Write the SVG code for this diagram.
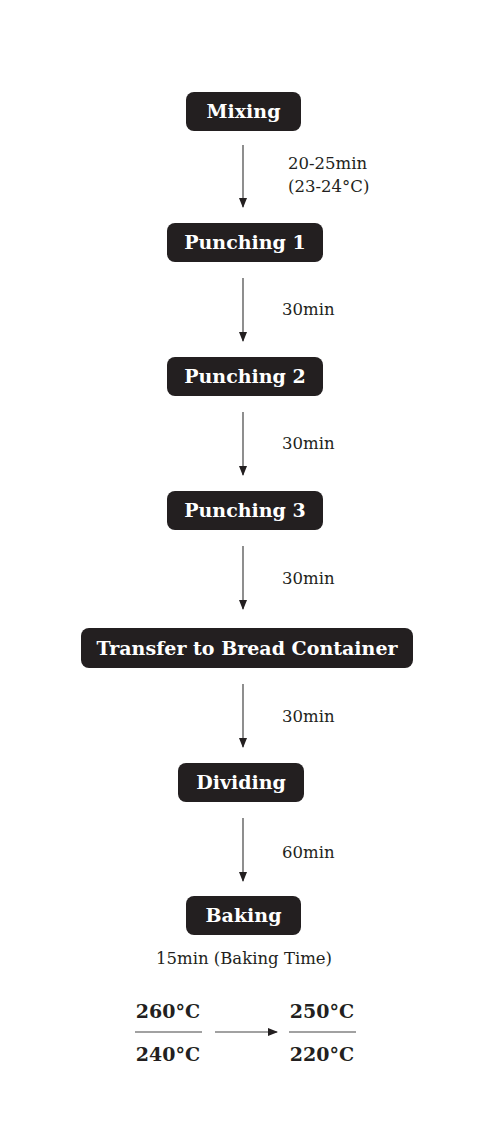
<svg xmlns="http://www.w3.org/2000/svg" width="492" height="1126" viewBox="0 0 492 1126">
<style>
.box{fill:#231f20}
.bt{fill:#fff;font-family:"DejaVu Serif","Liberation Serif",serif;font-weight:bold;font-size:19px;text-anchor:middle}
.lb{fill:#231f20;font-family:"DejaVu Serif","Liberation Serif",serif;font-size:16.5px}
.tp{fill:#231f20;font-family:"DejaVu Serif","Liberation Serif",serif;font-weight:bold;font-size:19px;text-anchor:middle}
.ln{stroke:#444;stroke-width:1.2;fill:none}
</style>
<defs>
<marker id="ah" markerWidth="10" markerHeight="8" refX="9" refY="4" orient="auto" markerUnits="userSpaceOnUse">
<path d="M0,0 L10,4 L0,8 Z" fill="#231f20"/>
</marker>
</defs>
<rect width="492" height="1126" fill="#fff"/>
<g id="mixing"><rect class="box" x="186" y="92" width="115" height="39" rx="8"/><text class="bt" x="243.5" y="118">Mixing</text></g>
<g id="punching1"><rect class="box" x="167" y="223" width="156" height="39" rx="8"/><text class="bt" x="245" y="249">Punching 1</text></g>
<g id="punching2"><rect class="box" x="167" y="357" width="156" height="39" rx="8"/><text class="bt" x="245" y="383">Punching 2</text></g>
<g id="punching3"><rect class="box" x="167" y="491" width="156" height="39" rx="8"/><text class="bt" x="245" y="517">Punching 3</text></g>
<g id="transfer"><rect class="box" x="81" y="628" width="332" height="40" rx="8"/><text class="bt" x="247" y="655" textLength="301" lengthAdjust="spacingAndGlyphs">Transfer to Bread Container</text></g>
<g id="dividing"><rect class="box" x="178" y="763" width="126" height="39" rx="8"/><text class="bt" x="241" y="789">Dividing</text></g>
<g id="baking"><rect class="box" x="186" y="896" width="115" height="39" rx="8"/><text class="bt" x="243.5" y="922">Baking</text></g>
<g id="connectors">
<line class="ln" x1="243" y1="145" x2="243" y2="207" marker-end="url(#ah)"/>
<line class="ln" x1="243" y1="278" x2="243" y2="341" marker-end="url(#ah)"/>
<line class="ln" x1="243" y1="412" x2="243" y2="475" marker-end="url(#ah)"/>
<line class="ln" x1="243" y1="546" x2="243" y2="609" marker-end="url(#ah)"/>
<line class="ln" x1="243" y1="684" x2="243" y2="747" marker-end="url(#ah)"/>
<line class="ln" x1="243" y1="818" x2="243" y2="881" marker-end="url(#ah)"/>
<line class="ln" x1="215" y1="1032" x2="277" y2="1032" marker-end="url(#ah)"/>
</g>
<g id="labels">
<text class="lb" x="288" y="169">20-25min</text>
<text class="lb" x="288" y="192">(23-24°C)</text>
<text class="lb" x="282" y="315">30min</text>
<text class="lb" x="282" y="449">30min</text>
<text class="lb" x="282" y="584">30min</text>
<text class="lb" x="282" y="722">30min</text>
<text class="lb" x="282" y="858">60min</text>
<text class="lb" x="244" y="964" text-anchor="middle">15min (Baking Time)</text>
</g>
<g id="temps">
<text class="tp" x="168" y="1018">260°C</text>
<line class="ln" x1="135" y1="1032" x2="202" y2="1032" stroke="#888"/>
<text class="tp" x="168" y="1061">240°C</text>
<text class="tp" x="322" y="1018">250°C</text>
<line class="ln" x1="289" y1="1032" x2="356" y2="1032" stroke="#888"/>
<text class="tp" x="322" y="1061">220°C</text>
</g>
</svg>
